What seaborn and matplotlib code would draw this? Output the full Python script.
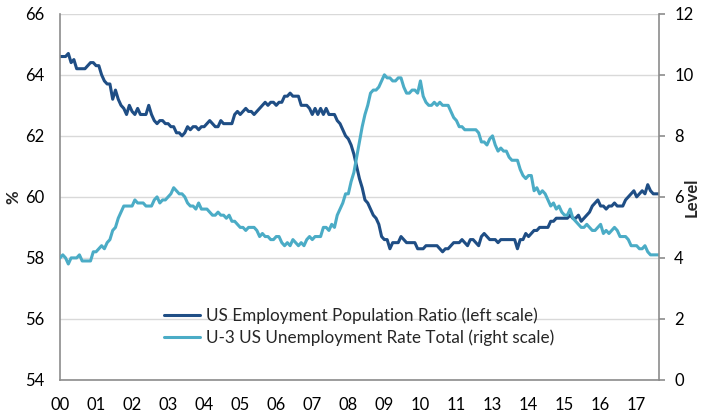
import numpy as np
import pandas as pd
import matplotlib
matplotlib.use("Agg")
import matplotlib.pyplot as plt
import seaborn as sns

# --- DATA: monthly, Jan 2000 - Jan 2018 ---
epop = [
    64.6, 64.6, 64.6, 64.7, 64.4, 64.5, 64.2, 64.2, 64.2, 64.2, 64.3, 64.4,  # 2000
    64.4, 64.3, 64.3, 64.0, 63.8, 63.7, 63.7, 63.2, 63.5, 63.2, 63.0, 62.9,  # 2001
    62.7, 63.0, 62.8, 62.7, 62.9, 62.7, 62.7, 62.7, 63.0, 62.7, 62.5, 62.4,  # 2002
    62.5, 62.5, 62.4, 62.4, 62.3, 62.3, 62.1, 62.1, 62.0, 62.1, 62.3, 62.2,  # 2003
    62.3, 62.3, 62.2, 62.3, 62.3, 62.4, 62.5, 62.4, 62.3, 62.3, 62.5, 62.4,  # 2004
    62.4, 62.4, 62.4, 62.7, 62.8, 62.7, 62.8, 62.9, 62.8, 62.8, 62.7, 62.8,  # 2005
    62.9, 63.0, 63.1, 63.0, 63.1, 63.1, 63.0, 63.1, 63.1, 63.3, 63.3, 63.4,  # 2006
    63.3, 63.3, 63.3, 63.0, 63.0, 63.0, 62.9, 62.7, 62.9, 62.7, 62.9, 62.7,  # 2007
    62.9, 62.7, 62.7, 62.7, 62.5, 62.4, 62.2, 62.0, 61.9, 61.7, 61.4, 61.0,  # 2008
    60.6, 60.3, 59.9, 59.8, 59.6, 59.4, 59.3, 59.1, 58.7, 58.6, 58.6, 58.3,  # 2009
    58.5, 58.5, 58.5, 58.7, 58.6, 58.5, 58.5, 58.5, 58.5, 58.3, 58.3, 58.3,  # 2010
    58.4, 58.4, 58.4, 58.4, 58.4, 58.3, 58.2, 58.3, 58.3, 58.4, 58.5, 58.5,  # 2011
    58.5, 58.6, 58.5, 58.4, 58.6, 58.6, 58.5, 58.4, 58.7, 58.8, 58.7, 58.6,  # 2012
    58.6, 58.6, 58.5, 58.6, 58.6, 58.6, 58.6, 58.6, 58.6, 58.3, 58.6, 58.6,  # 2013
    58.8, 58.7, 58.8, 58.9, 58.9, 59.0, 59.0, 59.0, 59.0, 59.2, 59.2, 59.3,  # 2014
    59.3, 59.3, 59.3, 59.3, 59.4, 59.3, 59.3, 59.4, 59.2, 59.3, 59.4, 59.5,  # 2015
    59.7, 59.8, 59.9, 59.7, 59.7, 59.6, 59.7, 59.7, 59.8, 59.7, 59.7, 59.7,  # 2016
    59.9, 60.0, 60.1, 60.2, 60.0, 60.1, 60.2, 60.1, 60.4, 60.2, 60.1, 60.1,  # 2017
    60.1,                                                                    # 2018
]

unrate = [
    4.0, 4.1, 4.0, 3.8, 4.0, 4.0, 4.0, 4.1, 3.9, 3.9, 3.9, 3.9,  # 2000
    4.2, 4.2, 4.3, 4.4, 4.3, 4.5, 4.6, 4.9, 5.0, 5.3, 5.5, 5.7,  # 2001
    5.7, 5.7, 5.7, 5.9, 5.8, 5.8, 5.8, 5.7, 5.7, 5.7, 5.9, 6.0,  # 2002
    5.8, 5.9, 5.9, 6.0, 6.1, 6.3, 6.2, 6.1, 6.1, 6.0, 5.8, 5.7,  # 2003
    5.7, 5.6, 5.8, 5.6, 5.6, 5.6, 5.5, 5.4, 5.4, 5.5, 5.4, 5.4,  # 2004
    5.3, 5.4, 5.2, 5.2, 5.1, 5.0, 5.0, 4.9, 5.0, 5.0, 5.0, 4.9,  # 2005
    4.7, 4.8, 4.7, 4.7, 4.6, 4.6, 4.7, 4.7, 4.5, 4.4, 4.5, 4.4,  # 2006
    4.6, 4.5, 4.4, 4.5, 4.4, 4.6, 4.7, 4.6, 4.7, 4.7, 4.7, 5.0,  # 2007
    5.0, 4.9, 5.1, 5.0, 5.4, 5.6, 5.8, 6.1, 6.1, 6.5, 6.8, 7.3,  # 2008
    7.8, 8.3, 8.7, 9.0, 9.4, 9.5, 9.5, 9.6, 9.8, 10.0, 9.9, 9.9,  # 2009
    9.8, 9.8, 9.9, 9.9, 9.6, 9.4, 9.4, 9.5, 9.5, 9.4, 9.8, 9.3,  # 2010
    9.1, 9.0, 9.0, 9.1, 9.0, 9.1, 9.0, 9.0, 9.0, 8.8, 8.6, 8.5,  # 2011
    8.3, 8.3, 8.2, 8.2, 8.2, 8.2, 8.2, 8.1, 7.8, 7.8, 7.7, 7.9,  # 2012
    8.0, 7.7, 7.5, 7.6, 7.5, 7.5, 7.3, 7.2, 7.2, 7.2, 6.9, 6.7,  # 2013
    6.6, 6.7, 6.7, 6.2, 6.3, 6.1, 6.2, 6.1, 5.9, 5.7, 5.8, 5.6,  # 2014
    5.7, 5.5, 5.4, 5.4, 5.6, 5.3, 5.2, 5.1, 5.0, 5.0, 5.1, 5.0,  # 2015
    4.9, 4.9, 5.0, 5.1, 4.8, 4.9, 4.8, 4.9, 5.0, 4.9, 4.7, 4.7,  # 2016
    4.7, 4.6, 4.4, 4.4, 4.4, 4.3, 4.3, 4.4, 4.2, 4.1, 4.1, 4.1,  # 2017
    4.1,                                                         # 2018
]

# Excel-style category axis: a tick every 13 months, so "12" never shows up
xtick_labels = ["00", "01", "02", "03", "04", "05", "06", "07", "08",
                "09", "10", "11", "13", "14", "15", "16", "17"]
tick_step = 13

left_ticks = [54, 56, 58, 60, 62, 64, 66]
right_ticks = [0, 2, 4, 6, 8, 10, 12]

epop_label = "US Employment Population Ratio (left scale)"
unrate_label = "U-3 US Unemployment Rate Total (right scale)"

df = pd.DataFrame({"month": np.arange(len(epop)), "epop": epop, "unrate": unrate})

# --- STYLE ---
sns.set_theme(style="white")
plt.rcParams["font.family"] = ["Lato", "DejaVu Sans"]

dark_blue = "#1F4E85"
light_blue = "#4BACC6"
axis_grey = "#8C8C8C"
fs = 12

fig = plt.figure(figsize=(7.02, 4.18), dpi=100)
ax = fig.add_axes([0.0855, 0.091, 0.853, 0.876])
ax2 = ax.twinx()

# --- LINES ---
sns.lineplot(data=df, x="month", y="epop", ax=ax, color=dark_blue,
             linewidth=2.2, label=epop_label, legend=False)
sns.lineplot(data=df, x="month", y="unrate", ax=ax2, color=light_blue,
             linewidth=2.2, label=unrate_label, legend=False)

# --- AXES ---
ax.set_xlim(0, len(epop) - 1)
ax.set_ylim(left_ticks[0], left_ticks[-1])
ax2.set_ylim(right_ticks[0], right_ticks[-1])
ax.set_yticks(left_ticks)
ax2.set_yticks(right_ticks)
ax.set_xticks(np.arange(len(xtick_labels)) * tick_step)
ax.set_xticklabels(xtick_labels)

ax.grid(axis="y", color="#D9D9D9", linewidth=1)
ax.set_axisbelow(True)
ax2.grid(False)

for a in (ax, ax2):
    a.spines["top"].set_visible(False)
    for s in ("left", "right", "bottom"):
        a.spines[s].set_color(axis_grey)
        a.spines[s].set_linewidth(1.2)
ax.spines["right"].set_visible(False)
ax2.spines["left"].set_visible(False)
ax2.spines["bottom"].set_visible(False)

ax.tick_params(axis="y", length=0, labelsize=fs, pad=11, colors="black")
ax.tick_params(axis="x", length=4, width=1.2, color=axis_grey,
               labelsize=fs, pad=8, labelcolor="black")
ax2.tick_params(axis="y", length=4, width=1.2, color=axis_grey,
                labelsize=fs, pad=7, labelcolor="black")

ax.set_xlabel("")
ax.set_ylabel("%", fontsize=fs, fontweight="bold", va="center", ha="center")
ax.yaxis.set_label_coords(-0.078, 0.5)
ax2.set_ylabel("Level", fontsize=fs, fontweight="bold", rotation=90,
               va="center", ha="center")
ax2.yaxis.set_label_coords(1.054, 0.5)

# --- LEGEND ---
h1, l1 = ax.get_legend_handles_labels()
h2, l2 = ax2.get_legend_handles_labels()
ax2.legend(h1 + h2, l1 + l2, loc="center", bbox_to_anchor=(0.5, 0.145),
           frameon=False, fontsize=12.3, handlelength=2.1, handletextpad=0.35,
           labelspacing=0.35)

fig.savefig("out.png", dpi=100)
